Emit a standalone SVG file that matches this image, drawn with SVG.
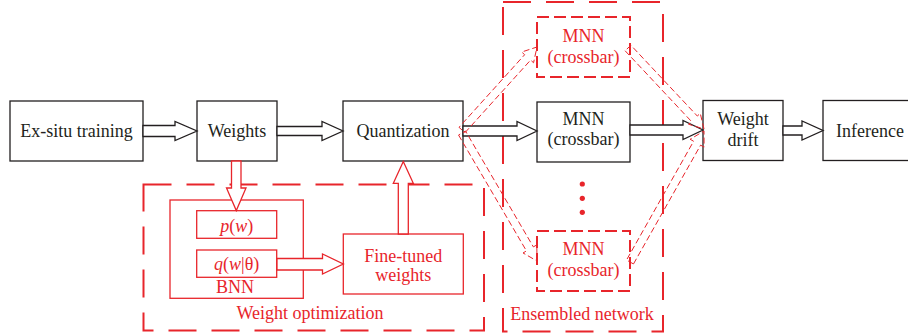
<svg xmlns="http://www.w3.org/2000/svg" width="908" height="336" viewBox="0 0 908 336">
<style>
text{font-family:'Liberation Serif','DejaVu Serif',serif;font-size:18px;text-anchor:middle}
.k{fill:#231f20}
.r{fill:#e8252b}
.bx{fill:#fff;stroke:#231f20;stroke-width:1.3}
.rbx{fill:none;stroke:#e8252b;stroke-width:1.3}
.ha{fill:#fff;stroke:#231f20;stroke-width:1.3;stroke-linejoin:miter}
.hr{fill:#fff;stroke:#e8252b;stroke-width:1.3}
.hd{fill:none;stroke:#e8252b;stroke-width:1;stroke-dasharray:6 3}
.big{fill:none;stroke:#e8252b;stroke-width:2;stroke-dasharray:28 15}
.mid{fill:none;stroke:#e8252b;stroke-width:2;stroke-dasharray:12 5}
</style>
<g id="groups">
<g id="weight-optimization">
<rect class="big" x="143.5" y="184.5" width="340.5" height="146"/>
<text class="r" x="310" y="319">Weight optimization</text>
</g>
<g id="ensembled-network">
<rect class="big" x="503" y="2" width="160" height="329.5"/>
<text class="r" x="582" y="320">Ensembled network</text>
</g>
</g>
<g id="ex-situ">
<rect class="bx" x="10" y="101" width="133" height="60"/>
<text class="k" x="76.5" y="137">Ex-situ training</text>
</g>
<g id="weights">
<rect class="bx" x="197" y="101" width="80" height="60"/>
<text class="k" x="237" y="137">Weights</text>
</g>
<g id="quantization">
<rect class="bx" x="343" y="101" width="120" height="60"/>
<text class="k" x="403" y="137">Quantization</text>
</g>
<g id="mnn-top">
<rect class="mid" x="537" y="17" width="93" height="60"/>
<text class="r" x="583.5" y="42">MNN</text>
<text class="r" x="583.5" y="63">(crossbar)</text>
</g>
<g id="mnn-mid">
<rect class="bx" x="537" y="102" width="93" height="60"/>
<text class="k" x="583.5" y="125">MNN</text>
<text class="k" x="583.5" y="145">(crossbar)</text>
</g>
<g id="dots">
<circle class="r" cx="582.3" cy="184" r="2.6"/>
<circle class="r" cx="582.3" cy="198.3" r="2.6"/>
<circle class="r" cx="582.3" cy="212.3" r="2.6"/>
</g>
<g id="mnn-bottom">
<rect class="mid" x="537" y="231" width="93" height="60"/>
<text class="r" x="583.5" y="255">MNN</text>
<text class="r" x="583.5" y="276">(crossbar)</text>
</g>
<g id="weight-drift">
<rect class="bx" x="703" y="100.5" width="80" height="60"/>
<text class="k" x="743" y="125">Weight</text>
<text class="k" x="743" y="146">drift</text>
</g>
<g id="inference">
<rect class="bx" x="823" y="100.5" width="100" height="60"/>
<text class="k" x="870" y="137">Inference</text>
</g>
<g id="bnn">
<rect class="rbx" x="170" y="200" width="133.3" height="98.3"/>
<text class="r" x="235" y="293">BNN</text>
</g>
<g id="p-w">
<rect class="rbx" x="196.7" y="210.7" width="80" height="27.6"/>
<text class="r" x="236.7" y="232"><tspan font-style="italic">p</tspan>(<tspan font-style="italic">w</tspan>)</text>
</g>
<g id="q-w">
<rect class="rbx" x="196.7" y="250" width="80" height="27.3"/>
<text class="r" x="236.7" y="270"><tspan font-style="italic">q</tspan>(<tspan font-style="italic">w</tspan>|θ)</text>
</g>
<g id="fine-tuned">
<rect class="rbx" x="343.3" y="234" width="120" height="60"/>
<text class="r" x="403.3" y="262">Fine-tuned</text>
<text class="r" x="403.3" y="281">weights</text>
</g>
<g id="connectors">
<polygon class="ha" points="143,125.5 175,125.5 175,121.5 197,131 175,140.5 175,136.5 143,136.5"/>
<polygon class="ha" points="277,126.5 322,126.5 322,121.5 343,131 322,140.5 322,135.5 277,135.5"/>
<polygon class="ha" points="463,126 517,126 517,121.5 537,131 517,140.5 517,136 463,136"/>
<polygon class="ha" points="630,125 683,125 683,120.5 703,130 683,139.5 683,135 630,135"/>
<polygon class="ha" points="783,126 802,126 802,121 823,130.5 802,140 802,135 783,135"/>
<polygon class="hr" points="231.5,161 231.5,188 226.5,188 236.3,210.5 246,188 241,188 241,161"/>
<polygon class="hr" points="277,258.5 322.5,258.5 322.5,254 343.3,264 322.5,274 322.5,270 277,270"/>
<polygon class="hr" points="398.3,234 398.3,183.3 393.3,183.3 403.3,161.5 413.3,183.3 408.3,183.3 408.3,234"/>
<polygon class="hd" points="464.97,132.68 530.59,60.07 533.56,62.75 537,47 521.68,52.03 524.65,54.71 459.03,127.32"/>
<polygon class="hd" points="458.55,135.02 526.47,250.94 523.02,252.96 537,261 536.82,244.88 533.37,246.9 465.45,130.98"/>
<polygon class="hd" points="625.08,50.74 691.5,121.53 688.59,124.26 704,129 700.25,113.32 697.34,116.05 630.92,45.26"/>
<polygon class="hd" points="633.48,263.97 700.59,145.16 704.08,147.12 704,131 690.14,139.26 693.63,141.22 626.52,260.03"/>
</g>
</svg>
